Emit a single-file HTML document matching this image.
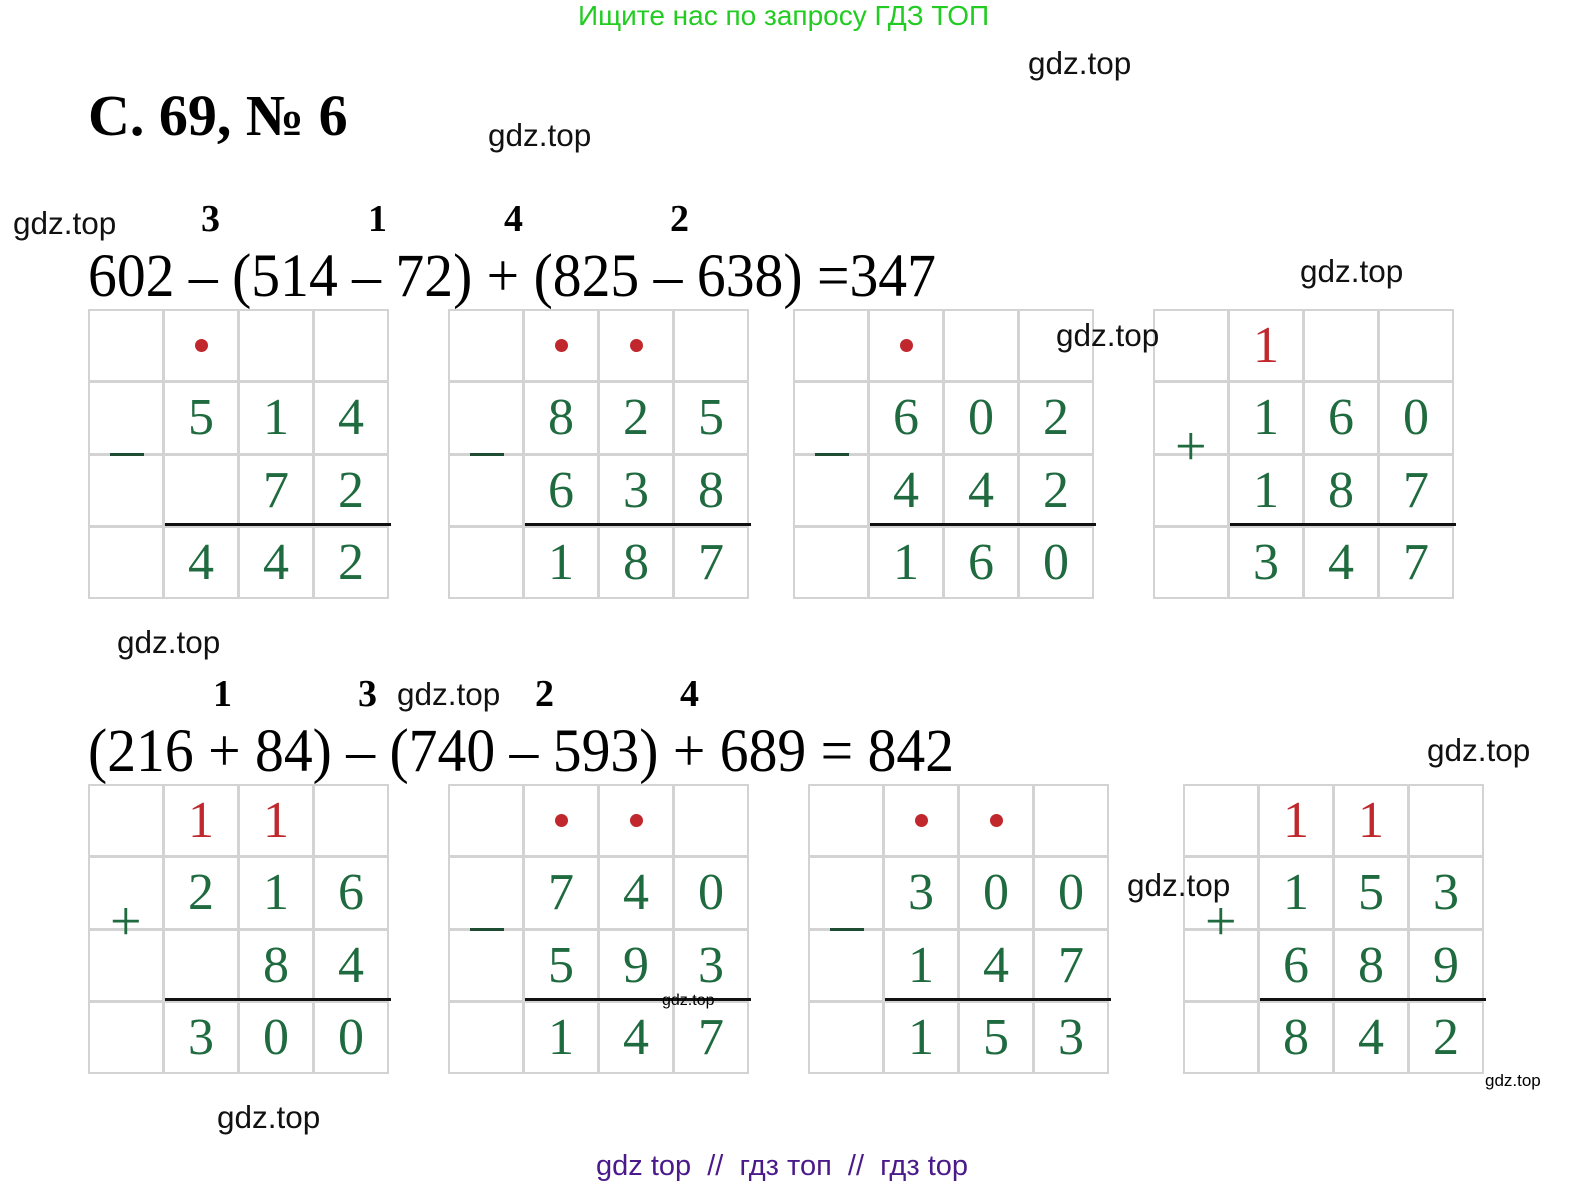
<!DOCTYPE html>
<html><head><meta charset="utf-8">
<style>
body{margin:0;width:1570px;height:1190px;background:#fff;position:relative;overflow:hidden;font-family:"Liberation Sans",sans-serif}
.a{position:absolute;white-space:nowrap;z-index:5}
.w{font-size:31.5px;color:#111}
.ser{font-family:"Liberation Serif",serif}
.ex{transform:scaleX(0.945);transform-origin:0 0}
.g{position:absolute;width:297px;height:286px;background:#d3d3d3;padding:2px;display:grid;grid-template-columns:repeat(4,1fr);grid-template-rows:repeat(4,1fr);gap:3px}
.g div{background:#fff;font-family:"Liberation Serif",serif;font-size:52px;color:#1f6b3f;display:flex;align-items:center;justify-content:center}
.g div.r{color:#c0282d}
.dot{width:13px;height:13px;border-radius:50%;background:#c0282d}
.ln{position:absolute;height:3px;background:#111}
.mi{position:absolute;width:34px;height:3px;background:#1f4d33}
.pl{position:absolute;font-family:"Liberation Serif",serif;font-size:56px;color:#1f6b3f}
.n{position:absolute;font-family:"Liberation Serif",serif;font-weight:bold;font-size:38px}
</style></head><body>
<div class="a" style="left:578px;top:0px;font-size:28px;color:#22cc22">Ищите нас по запросу ГДЗ ТОП</div>
<div class="a w" style="left:1028px;top:45px">gdz.top</div>
<div class="a ser" style="left:88px;top:82px;font-size:58px;font-weight:bold">С. 69, № 6</div>
<div class="a w" style="left:488px;top:117px">gdz.top</div>
<div class="a w" style="left:13px;top:205px">gdz.top</div>
<div class="n" style="left:201px;top:197px">3</div>
<div class="n" style="left:368px;top:197px">1</div>
<div class="n" style="left:504px;top:197px">4</div>
<div class="n" style="left:670px;top:197px">2</div>
<div class="a ser ex" style="left:88px;top:242px;font-size:61px">602 – (514 – 72) + (825 – 638) =347</div>
<div class="a w" style="left:1300px;top:253px">gdz.top</div>

<div class="g" style="left:88px;top:309px"><div></div><div><span class="dot"></span></div><div></div><div></div><div></div><div>5</div><div>1</div><div>4</div><div></div><div></div><div>7</div><div>2</div><div></div><div>4</div><div>4</div><div>2</div></div>
<div class="ln" style="left:165px;top:523px;width:226px"></div><div class="mi" style="left:110px;top:453px"></div>

<div class="g" style="left:448px;top:309px"><div></div><div><span class="dot"></span></div><div><span class="dot"></span></div><div></div><div></div><div>8</div><div>2</div><div>5</div><div></div><div>6</div><div>3</div><div>8</div><div></div><div>1</div><div>8</div><div>7</div></div>
<div class="ln" style="left:525px;top:523px;width:226px"></div><div class="mi" style="left:470px;top:453px"></div>

<div class="g" style="left:793px;top:309px"><div></div><div><span class="dot"></span></div><div></div><div></div><div></div><div>6</div><div>0</div><div>2</div><div></div><div>4</div><div>4</div><div>2</div><div></div><div>1</div><div>6</div><div>0</div></div>
<div class="ln" style="left:870px;top:523px;width:226px"></div><div class="mi" style="left:815px;top:453px"></div>

<div class="g" style="left:1153px;top:309px"><div></div><div class="r">1</div><div></div><div></div><div></div><div>1</div><div>6</div><div>0</div><div></div><div>1</div><div>8</div><div>7</div><div></div><div>3</div><div>4</div><div>7</div></div>
<div class="ln" style="left:1230px;top:523px;width:226px"></div><div class="pl" style="left:1175px;top:415px">+</div>
<div class="a w" style="left:1056px;top:317px">gdz.top</div>

<div class="a w" style="left:117px;top:624px">gdz.top</div>
<div class="n" style="left:213px;top:672px">1</div>
<div class="n" style="left:358px;top:672px">3</div>
<div class="a w" style="left:397px;top:676px">gdz.top</div>
<div class="n" style="left:535px;top:672px">2</div>
<div class="n" style="left:680px;top:672px">4</div>
<div class="a ser ex" style="left:88px;top:717px;font-size:61px">(216 + 84) – (740 – 593) + 689 = 842</div>
<div class="a w" style="left:1427px;top:732px">gdz.top</div>

<div class="g" style="left:88px;top:784px"><div></div><div class="r">1</div><div class="r">1</div><div></div><div></div><div>2</div><div>1</div><div>6</div><div></div><div></div><div>8</div><div>4</div><div></div><div>3</div><div>0</div><div>0</div></div>
<div class="ln" style="left:165px;top:998px;width:226px"></div><div class="pl" style="left:110px;top:890px">+</div>

<div class="g" style="left:448px;top:784px"><div></div><div><span class="dot"></span></div><div><span class="dot"></span></div><div></div><div></div><div>7</div><div>4</div><div>0</div><div></div><div>5</div><div>9</div><div>3</div><div></div><div>1</div><div>4</div><div>7</div></div>
<div class="ln" style="left:525px;top:998px;width:226px"></div><div class="mi" style="left:470px;top:928px"></div>
<div class="a" style="left:662px;top:992px;font-size:16px">gdz.top</div>

<div class="g" style="left:808px;top:784px"><div></div><div><span class="dot"></span></div><div><span class="dot"></span></div><div></div><div></div><div>3</div><div>0</div><div>0</div><div></div><div>1</div><div>4</div><div>7</div><div></div><div>1</div><div>5</div><div>3</div></div>
<div class="ln" style="left:885px;top:998px;width:226px"></div><div class="mi" style="left:830px;top:928px"></div>

<div class="g" style="left:1183px;top:784px"><div></div><div class="r">1</div><div class="r">1</div><div></div><div></div><div>1</div><div>5</div><div>3</div><div></div><div>6</div><div>8</div><div>9</div><div></div><div>8</div><div>4</div><div>2</div></div>
<div class="ln" style="left:1260px;top:998px;width:226px"></div><div class="pl" style="left:1205px;top:890px">+</div>
<div class="a w" style="left:1127px;top:867px">gdz.top</div>
<div class="a" style="left:1485px;top:1071px;font-size:17px">gdz.top</div>

<div class="a w" style="left:217px;top:1099px">gdz.top</div>
<div class="a" style="left:596px;top:1150px;font-size:29px;color:#4b1a8a">gdz top &nbsp;// &nbsp;гдз топ &nbsp;// &nbsp;гдз top</div>
</body></html>
